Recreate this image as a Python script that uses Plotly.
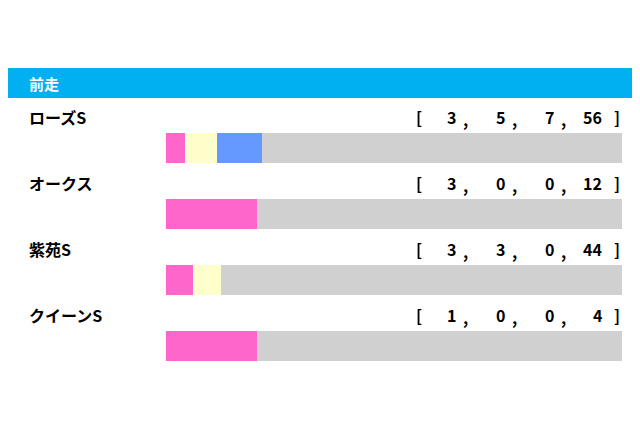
import plotly.graph_objects as go

races = ['ローズS', 'オークス', '紫苑S', 'クイーンS']
first = [3, 3, 3, 1]
second = [5, 0, 3, 0]
third = [7, 0, 0, 0]
other = [56, 12, 44, 4]

colors = ['#ff66cc', '#ffffcc', '#6699ff', '#d0d0d0']
font = 'Noto Sans CJK JP'
off = 8  # page margin of the html body

totals = [a + b + c + d for a, b, c, d in zip(first, second, third, other)]
rows = list(range(len(races)))


def px(x):
    return (x - off) / 640


def py(y):
    return 1 - (y - off) / 426


fig = go.Figure()
for vals, col in zip([first, second, third, other], colors):
    fig.add_trace(go.Bar(
        y=rows, x=[v / t for v, t in zip(vals, totals)], orientation='h',
        marker=dict(color=col, line=dict(width=0)), width=0.44,
        hoverinfo='skip', showlegend=False))

txt = dict(family=font, size=16, color='black')
ann = [dict(xref='paper', yref='paper', x=px(27), y=py(83), text='<b>前走</b>', showarrow=False,
            xanchor='left', yanchor='middle', font=dict(family=font, size=15, color='white'))]
num_x = [458, 507, 556, 604]
for i, r in enumerate(races):
    yy = i - 0.47
    ann.append(dict(xref='paper', yref='y', x=px(27), y=yy, text='<b>%s</b>' % r, showarrow=False,
                    xanchor='left', yanchor='middle', font=txt))
    ann.append(dict(xref='paper', yref='y', x=px(419), y=yy, text='<b>[</b>', showarrow=False,
                    yanchor='middle', font=txt))
    ann.append(dict(xref='paper', yref='y', x=px(622), y=yy, text='<b>]</b>', showarrow=False,
                    yanchor='middle', font=txt))
    vals = [first[i], second[i], third[i], other[i]]
    for k, (v, xx) in enumerate(zip(vals, num_x)):
        ann.append(dict(xref='paper', yref='y', x=px(xx), y=yy, text='<b>%d</b>' % v, showarrow=False,
                        xanchor='right', yanchor='middle', font=txt))
        if k < 3:
            ann.append(dict(xref='paper', yref='y', x=px(xx + 12), y=yy + 0.03, text='<b>,</b>',
                            showarrow=False, yanchor='middle', font=txt))

fig.update_layout(
    width=640, height=426, margin=dict(l=0, r=0, t=0, b=0),
    paper_bgcolor='white', plot_bgcolor='rgba(0,0,0,0)', barmode='stack', bargap=0,
    xaxis=dict(domain=[px(166), px(622)], range=[0, 1], visible=False, fixedrange=True),
    yaxis=dict(domain=[0, 1], range=[(426 - 140) / 66, -140 / 66], visible=False, fixedrange=True),
    shapes=[dict(type='rect', xref='paper', yref='paper', x0=px(8), x1=px(632),
                 y0=py(98), y1=py(68), fillcolor='#00b0f0', line=dict(width=0), layer='below')],
    annotations=ann,
)
fig.write_html('out.html')
